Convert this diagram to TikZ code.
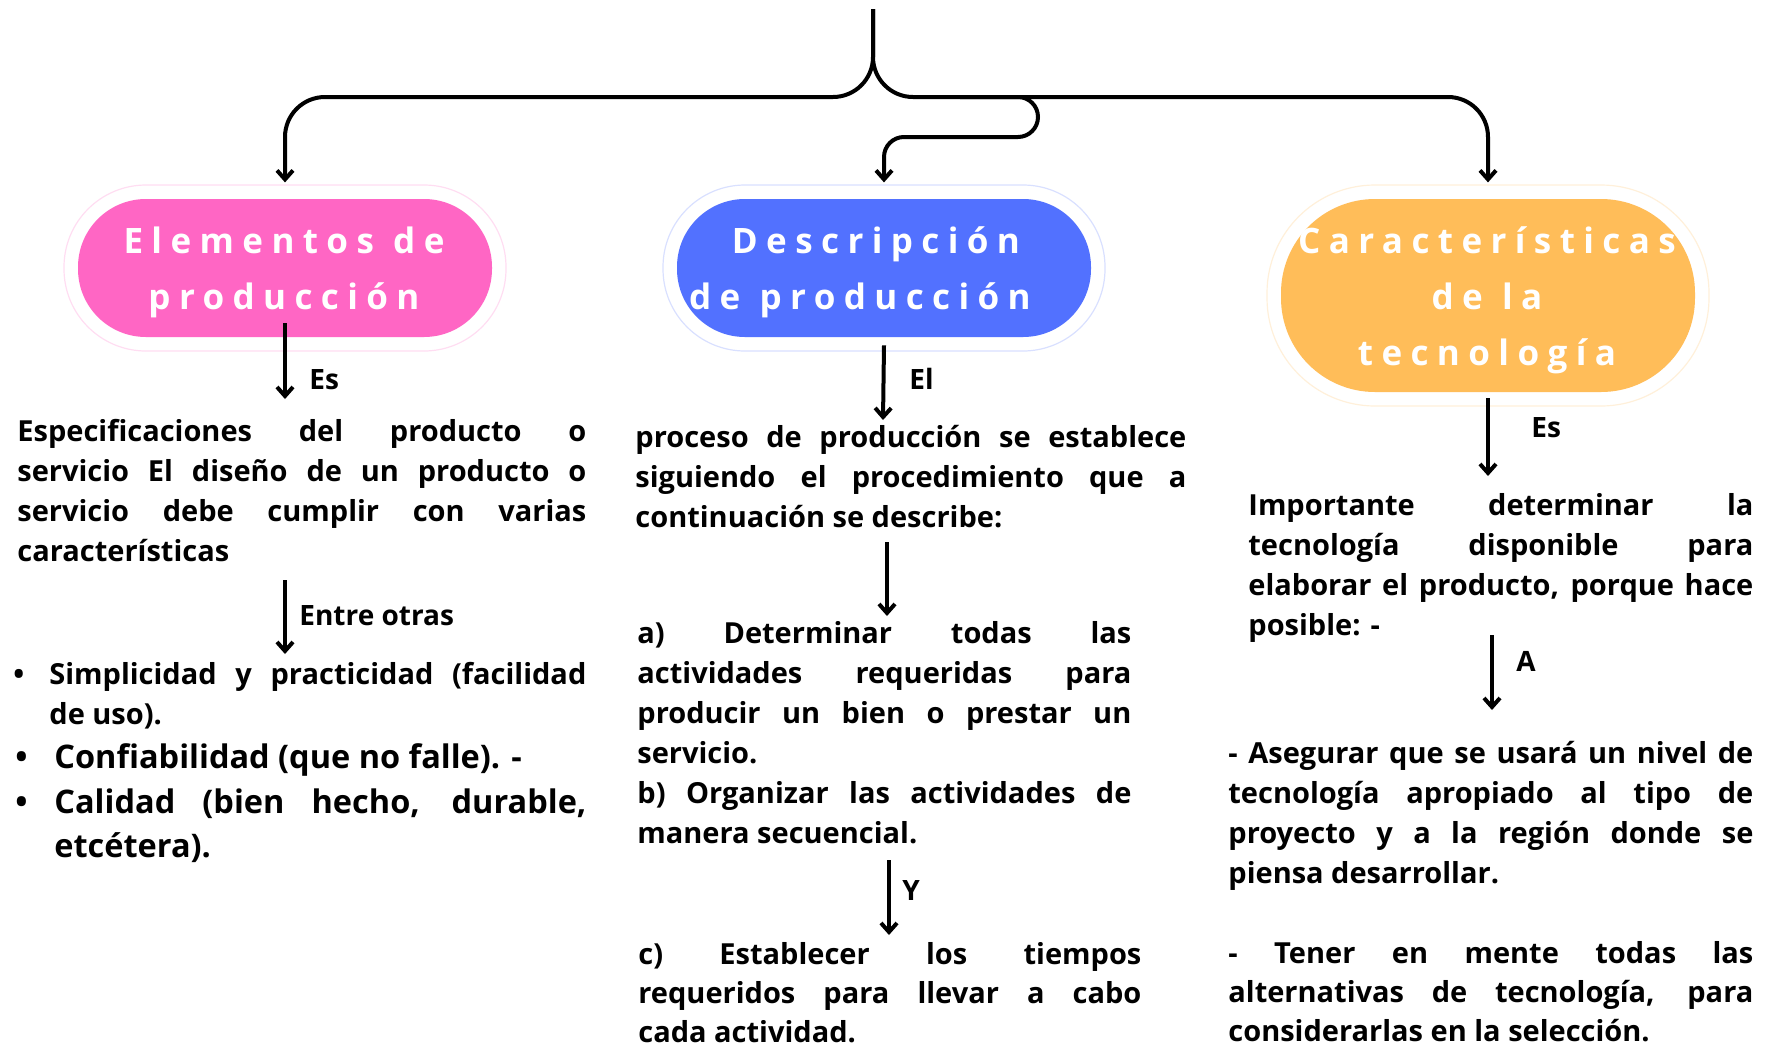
\documentclass[tikz,border=0pt]{standalone}
\usepackage{fontspec}
\setmainfont{Open Sans}
\newfontfamily\titlefont{Open Sans}[LetterSpace=24]
\usetikzlibrary{arrows.meta}
\definecolor{cpink}{HTML}{FF66C4}
\definecolor{cblue}{HTML}{5271FF}
\definecolor{corange}{HTML}{FFBD59}
\newlength\jwidth
\newcommand\jline[1]{\hbox to \jwidth{\spaceskip=0pt\xspaceskip=0pt #1}\par}
\newcommand\wsp{\kern0.55em}
\begin{document}
\begin{tikzpicture}[x=0.5pt,y=-0.5pt,
  conn/.style={line width=2pt,-{Straight Barb[length=4.5pt,width=8pt]}},
  halo/.style={draw=#1, line width=0.6pt, fill=white, inner sep=0pt},
  boxs/.style={fill=#1, inner sep=0pt},
  ttl/.style={font=\titlefont\bfseries\fontsize{17.5}{28}\selectfont, text=white, align=center, inner sep=0pt, anchor=base, text width=250pt},
  lab/.style={font=\bfseries\fontsize{14}{18}\selectfont, inner sep=0pt, anchor=base west},
  pw/.style={text width=#1, execute at begin node={\setlength{\jwidth}{#1}}},
  para/.style={font=\bfseries\fontsize{14.5}{20}\selectfont, inner sep=0pt, anchor=base west, align=justify},
  parab/.style={para, font=\bfseries\fontsize{14.5}{19.5}\selectfont},
  lbig/.style={para, font=\bfseries\fontsize{16.25}{22}\selectfont},
]
\useasboundingbox (0,0) rectangle (1768,1045);

% boxes
\node[halo=cpink!22, minimum width=221pt, minimum height=83pt, rounded corners=41pt] (ph) at (285,268) {};
\node[boxs=cpink, minimum width=207pt, minimum height=69pt, rounded corners=34pt] (pb) at (285,268) {};
\node[halo=cblue!22, minimum width=221pt, minimum height=83pt, rounded corners=41pt] (bh) at (884,268) {};
\node[boxs=cblue, minimum width=207pt, minimum height=69pt, rounded corners=34pt] (bb) at (884,268) {};
\node[halo=corange!22, minimum width=221pt, minimum height=110.5pt, rounded corners=54pt] (oh) at (1488,295.5) {};
\node[boxs=corange, minimum width=207pt, minimum height=96.5pt, rounded corners=47pt] (ob) at (1488,295.5) {};

% titles
\node[ttl] (pt) at (284,253) {Elementos\wsp de\\producción};
\node[ttl] (bt) at (876,253) {Descripción\\de\wsp producción\hspace*{16pt}};
\node[ttl] (ot) at (1487,253) {Características\\de\wsp la\\tecnología};

% top connectors
\coordinate (top) at (873,9);
\coordinate (mj) at (960,97);
\draw[conn, rounded corners=20pt] (top) -- (873,97) -- (285,97) -- ([yshift=1pt]ph.north);
\draw[conn, rounded corners=20pt] (top) -- (873,97) -- (1488,97) -- ([yshift=1pt]oh.north);
\draw[conn, rounded corners=10pt] (mj) -- (1038,97) -- (1038,137) -- (884,137) -- ([yshift=1pt]bh.north);

% left column
\coordinate (le1) at (285,399);
\draw[conn] ([yshift=7pt]pb.south) -- (le1);
\node[lab] (les) at (309,389) {Es};
\node[para, pw=284.5pt] (lp) at (17,441) {\jline{Especificaciones del producto o}\jline{servicio El diseño de un producto o}\jline{servicio debe cumplir con varias}características};
\coordinate (ls2) at (285,580);
\coordinate (le2) at (285,654);
\draw[conn] (ls2) -- (le2);
\node[lab] (leo) at (299,625) {Entre otras};
\node[para] (bu1) at (13,684) {•};
\node[para, pw=268.5pt] (it1) at (49,684) {\jline{Simplicidad y practicidad (facilidad}de uso).};
\node[lbig] (bu2) at (15,768) {•};
\node[lbig, pw=266pt] (it2) at (54,768) {Confiabilidad (que no falle). -};
\node[lbig] (bu3) at (15,813) {•};
\node[lbig, pw=266pt] (it3) at (54,813) {\jline{Calidad (bien hecho, durable,}etcétera).};

% middle column
\coordinate (me1) at (883,420);
\draw[conn] ([yshift=-4pt]bb.south) -- (me1);
\node[lab] (mel) at (909,389) {El};
\node[para, pw=275.5pt] (mp1) at (635,447) {\jline{proceso de producción se establece}\jline{siguiendo el procedimiento que a}continuación se describe:};
\coordinate (ms2) at (887,542);
\coordinate (me2) at (887,616);
\draw[conn] (ms2) -- (me2);
\node[para, pw=247pt] (mp2) at (637,643) {\jline{a) Determinar todas las}\jline{actividades requeridas para}\jline{producir un bien o prestar un}servicio.\par\jline{b) Organizar las actividades de}manera secuencial.};
\coordinate (ms3) at (889,860);
\coordinate (me3) at (889,935);
\draw[conn] (ms3) -- (me3);
\node[lab] (mey) at (902,900) {Y};
\node[parab, pw=251.5pt] (mp3) at (638,964) {\jline{c) Establecer los tiempos}\jline{requeridos para llevar a cabo}cada actividad.};

% right column
\coordinate (re1) at (1488,476);
\draw[conn] ([yshift=-3pt]ob.south) -- (re1);
\node[lab] (res) at (1531,437) {Es};
\node[para, pw=252.5pt] (rp1) at (1248,515) {\jline{Importante determinar la}\jline{tecnología disponible para}\jline{elaborar el producto, porque hace}posible: -};
\coordinate (rs2) at (1492,635);
\coordinate (re2) at (1492,710);
\draw[conn] (rs2) -- (re2);
\node[lab] (rea) at (1516,671) {A};
\node[para, pw=262.5pt] (rp2) at (1228,763) {\jline{- Asegurar que se usará un nivel de}\jline{tecnología apropiado al tipo de}\jline{proyecto y a la región donde se}piensa desarrollar.};
\node[parab, pw=262.5pt] (rp3) at (1228,963) {\jline{- Tener en mente todas las}\jline{alternativas de tecnología, para}considerarlas en la selección.};
\end{tikzpicture}
\end{document}
